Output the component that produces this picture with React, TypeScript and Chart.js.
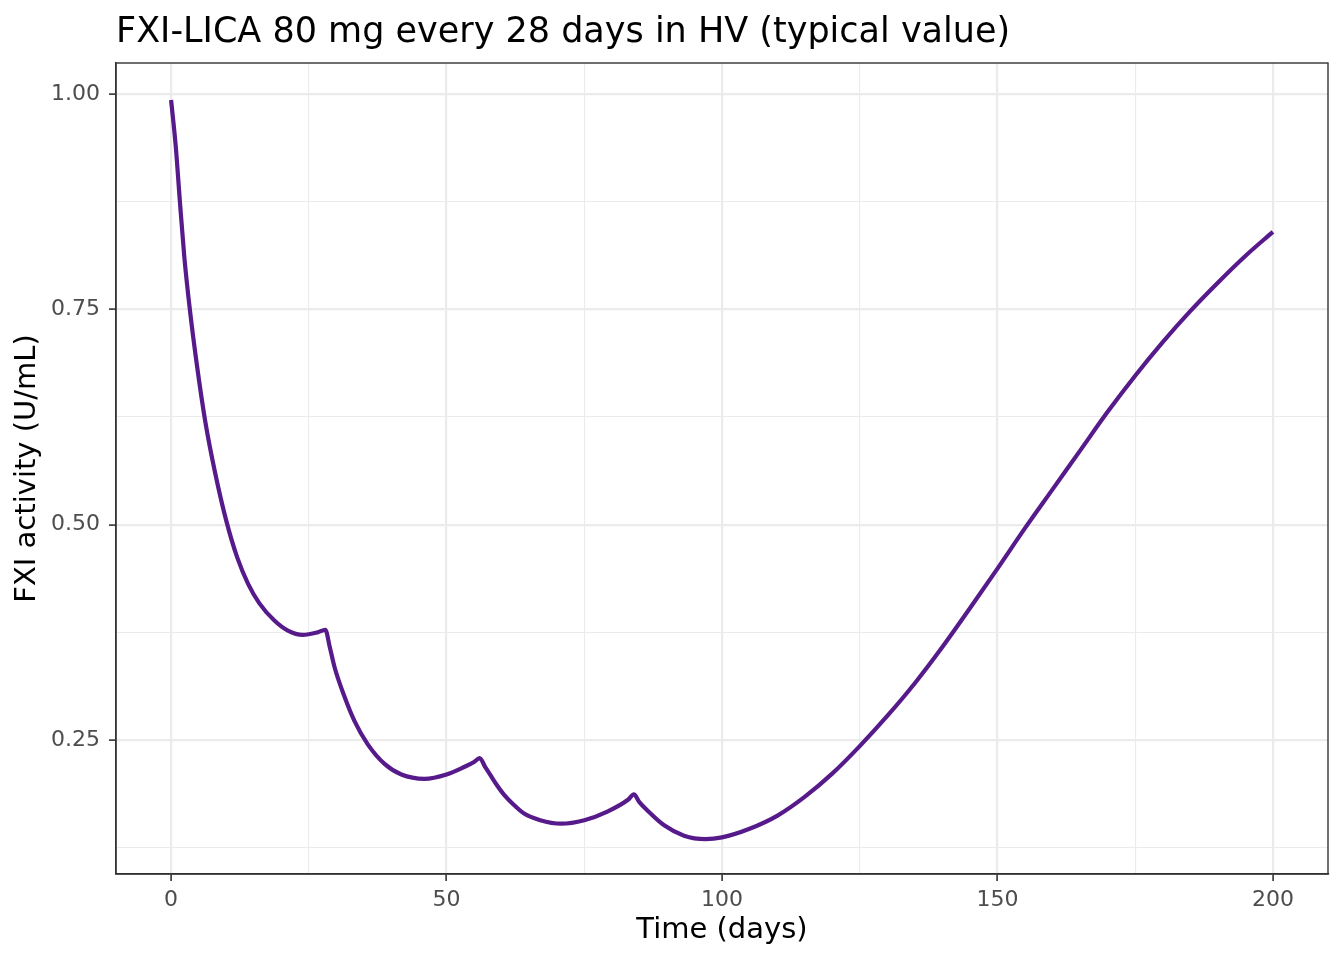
import React, { useEffect, useRef } from 'react';
import { Chart, registerables } from 'chart.js';

Chart.register(...registerables);

const titleText = 'FXI-LICA 80 mg every 28 days in HV (typical value)';
const xAxisTitle = 'Time (days)';
const yAxisTitle = 'FXI activity (U/mL)';

const timeDays = [
  0, 0.85, 1.6, 2.4, 3.4, 4.65, 6.2, 8, 10, 12, 14, 16, 18.7, 21.2, 23.9, 26.6, 28,
  28.8, 29.7, 31.5, 33.3, 35.7, 38.8, 41.8, 46, 50, 53.3, 55, 56,
  57, 58, 59, 60.5, 62, 64, 67, 70.8, 75, 79.2, 83, 84,
  85, 86.5, 89.5, 93.1, 97, 100, 105, 110, 115, 120, 125, 130, 135, 140, 145, 150,
  155, 160, 165, 170, 175, 180, 185, 190, 195, 200,
];

const fxiActivity = [
  0.993, 0.939, 0.875, 0.811, 0.75, 0.687, 0.62, 0.56, 0.505, 0.462, 0.431, 0.409, 0.389, 0.377, 0.372, 0.375, 0.378,
  0.358, 0.334, 0.3, 0.272, 0.245, 0.222, 0.21, 0.205, 0.21, 0.219, 0.2245, 0.229,
  0.219, 0.209, 0.199, 0.186, 0.176, 0.165, 0.157, 0.153, 0.157, 0.167, 0.181, 0.187,
  0.178, 0.168, 0.151, 0.139, 0.135, 0.137, 0.147, 0.162, 0.184, 0.211, 0.243, 0.278, 0.316, 0.358, 0.403, 0.449,
  0.496, 0.541, 0.586, 0.631, 0.673, 0.712, 0.748, 0.781, 0.812, 0.84,
];

const xMajorTicks = [0, 50, 100, 150, 200];
const xMinorTicks = [25, 75, 125, 175];
const yMajorTicks = [0.25, 0.5, 0.75, 1.0];
const yMinorTicks = [0.125, 0.375, 0.625, 0.875];

const FONT = "'DejaVu Sans', 'Liberation Sans', sans-serif";
const near = (a: number, b: number) => Math.abs(a - b) < 1e-9;
const isIn = (list: number[], v: number) => list.some((t) => near(t, v));

const panelPlugin = {
  id: 'panelDecor',
  afterDraw(chart: any) {
    const { ctx, chartArea } = chart;
    ctx.save();
    ctx.strokeStyle = '#333333';
    ctx.lineWidth = 1.4;
    ctx.strokeRect(chartArea.left, chartArea.top, chartArea.right - chartArea.left, chartArea.bottom - chartArea.top);
    ctx.fillStyle = '#000000';
    ctx.font = `35px ${FONT}`;
    ctx.textAlign = 'left';
    ctx.textBaseline = 'alphabetic';
    ctx.fillText(titleText, chartArea.left, 41.5);
    ctx.restore();
  },
};

export default function App() {
  const ref = useRef<HTMLCanvasElement | null>(null);

  useEffect(() => {
    document.body.style.margin = '0';
    const canvas = ref.current;
    if (!canvas) return;
    const points = timeDays.map((t, i) => ({ x: t, y: fxiActivity[i] }));
    const xAll = [...xMajorTicks, ...xMinorTicks].sort((a, b) => a - b);
    const yAll = [...yMajorTicks, ...yMinorTicks].sort((a, b) => a - b);

    const chart = new Chart(canvas, {
      type: 'line',
      data: {
        datasets: [
          {
            data: points,
            borderColor: '#561A8B',
            borderWidth: 4.2,
            pointRadius: 0,
            fill: false,
            cubicInterpolationMode: 'monotone',
          },
        ],
      },
      options: {
        animation: false,
        responsive: false,
        devicePixelRatio: 1,
        layout: { padding: { top: 63, right: 16, left: 0, bottom: 0 } },
        plugins: {
          legend: { display: false },
          title: { display: false },
          tooltip: { enabled: false },
        },
        scales: {
          x: {
            type: 'linear',
            min: -10,
            max: 210,
            afterBuildTicks: (s: any) => {
              s.ticks = xAll.map((v) => ({ value: v }));
            },
            afterFit: (s: any) => {
              s.height = 86;
            },
            ticks: {
              autoSkip: false,
              maxRotation: 0,
              padding: 6,
              color: '#4D4D4D',
              font: { family: FONT, size: 22 },
              callback: (v: any) => (isIn(xMajorTicks, Number(v)) ? String(v) : ''),
            },
            grid: {
              color: '#EBEBEB',
              lineWidth: (c: any) => (c.tick && isIn(xMajorTicks, c.tick.value) ? 2.2 : 1.1),
              tickColor: (c: any) => (c.tick && isIn(xMajorTicks, c.tick.value) ? '#333333' : 'rgba(0,0,0,0)'),
              tickLength: 7,
              tickWidth: 1.6,
            },
            border: { display: true, color: '#333333', width: 1.4 },
            title: {
              display: true,
              text: xAxisTitle,
              color: '#000000',
              font: { family: FONT, size: 29 },
              padding: { top: 0, bottom: 12 },
            },
          },
          y: {
            type: 'linear',
            min: 0.0945,
            max: 1.036,
            afterBuildTicks: (s: any) => {
              s.ticks = yAll.map((v) => ({ value: v }));
            },
            afterFit: (s: any) => {
              s.width = 116;
            },
            ticks: {
              autoSkip: false,
              padding: 9,
              color: '#4D4D4D',
              font: { family: FONT, size: 22 },
              callback: (v: any) => (isIn(yMajorTicks, Number(v)) ? Number(v).toFixed(2) : ''),
            },
            grid: {
              color: '#EBEBEB',
              lineWidth: (c: any) => (c.tick && isIn(yMajorTicks, c.tick.value) ? 2.2 : 1.1),
              tickColor: (c: any) => (c.tick && isIn(yMajorTicks, c.tick.value) ? '#333333' : 'rgba(0,0,0,0)'),
              tickLength: 7,
              tickWidth: 1.6,
            },
            border: { display: true, color: '#333333', width: 1.4 },
            title: {
              display: true,
              text: yAxisTitle,
              color: '#000000',
              font: { family: FONT, size: 29 },
              padding: { top: 10, bottom: 0 },
            },
          },
        },
      },
      plugins: [panelPlugin],
    } as any);

    return () => chart.destroy();
  }, []);

  return (
    <div style={{ width: 1344, height: 960 }}>
      <canvas ref={ref} width={1344} height={960} style={{ display: 'block', width: 1344, height: 960 }} />
    </div>
  );
}
